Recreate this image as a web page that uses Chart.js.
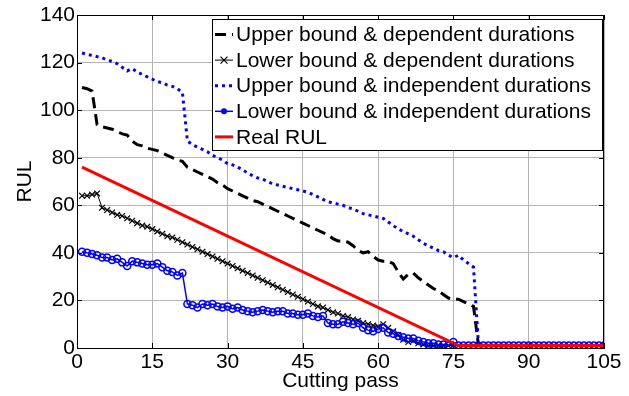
<!DOCTYPE html>
<html lang="en">
<head>
<meta charset="UTF-8" />
<title>RUL</title>
<style>
  body { margin: 0; background: #fff; }
  #box { width: 629px; height: 396px; }
</style>
</head>
<body>
<div id="box"><canvas id="myChart" width="629" height="396"></canvas></div>
<script src="https://cdn.jsdelivr.net/npm/chart.js"></script>
<script>
// RUL per cutting pass (pass 1..105)
var upper_dep = [
  109.5, 109, 108, 94, 93, 92.5, 92, 91, 90, 89.5,
  87, 85.5, 85, 84, 83.5, 83, 82, 81, 80, 79,
  78.5, 76, 75, 74, 73, 72, 71, 69.5, 68.5, 67,
  66, 65, 64, 63, 62, 61.5, 60.5, 59.5, 58.5, 57.5,
  56.5, 55.5, 54.5, 53.5, 52.5, 51.5, 50.5, 49.5, 48.5, 47.5,
  46, 45, 45, 44.5, 43, 41, 40, 40.5, 38.5, 37,
  36.5, 36.5, 35.5, 32, 29, 31, 31.5, 29.5, 28, 26.5,
  25, 24, 22.5, 21, 20.5, 20.5, 19.5, 18.5, 17.5, 1,
  1, 1, 1, 1, 1, 1, 1, 1, 1, 1,
  1, 1, 1, 1, 1, 1, 1, 1, 1, 1,
  1, 1, 1, 1, 1
];
var lower_dep = [
  64, 64, 64.5, 65, 59, 58, 57, 56, 55.5, 54.5,
  53.5, 52.5, 51.5, 51, 50, 49, 48, 47, 46.5, 45.5,
  44.5, 43.5, 42.5, 41.5, 40.5, 39.5, 38.5, 37.5, 36.5, 35.5,
  34.5, 33.5, 32.5, 31.5, 30.5, 29.5, 28.5, 27.5, 26.5, 25.5,
  24.5, 23.5, 22.5, 21.5, 20.5, 19.5, 18.5, 17.5, 17, 16,
  15, 14.5, 13.5, 13, 12, 11.5, 10.5, 10, 9.5, 9,
  10, 8.5, 7, 5.5, 3.5, 2.5, 3, 2, 1.5, 1,
  1, 1, 1, 1, 1, 1, 1, 1, 1, 1,
  1, 1, 1, 1, 1, 1, 1, 1, 1, 1,
  1, 1, 1, 1, 1, 1, 1, 1, 1, 1,
  1, 1, 1, 1, 1
];
var upper_indep = [
  124, 123.5, 123, 122.5, 122, 121, 120.5, 119.5, 118, 116.5,
  117.5, 116, 115, 114, 113, 112, 111.5, 110.5, 110, 109,
  107.5, 87, 85.5, 84.5, 83.5, 82.5, 81, 80, 79, 77.5,
  77, 76, 75, 73.5, 72.5, 71.5, 71, 70, 69, 68.5,
  68, 67.5, 67, 66.5, 66, 65.5, 64.5, 63.5, 62.5, 61.5,
  61, 60.5, 60, 59, 58.5, 57.5, 56.5, 56, 55.5, 55,
  54.5, 53, 51.5, 50, 49, 48, 47, 45.5, 44, 43,
  42, 41, 40.5, 39, 38, 39, 37, 35.5, 34, 1,
  1, 1, 1, 1, 1, 1, 1, 1, 1, 1,
  1, 1, 1, 1, 1, 1, 1, 1, 1, 1,
  1, 1, 1, 1, 1
];
var lower_indep = [
  40.5, 40, 39.5, 39, 38, 38, 37, 37.5, 36, 34.5,
  36.5, 36, 35.5, 35, 35, 35.5, 34, 32.5, 32, 30.5,
  31.5, 18.5, 18, 17, 18.5, 18, 18.5, 17.5, 17, 17.5,
  16.5, 17, 16, 15.5, 15, 15.5, 16, 15.5, 15, 15.5,
  15.5, 14.5, 14.5, 14, 14, 14.5, 13.5, 13, 13.5, 10.5,
  10, 10, 11, 10.5, 10, 10.5, 8.5, 7.5, 7, 8,
  8.5, 6.5, 6, 5, 4.5, 4, 4, 3, 2.5, 2,
  2, 1.5, 1.5, 1, 2.5, 1, 1, 1, 1, 1,
  1, 1, 1, 1, 1, 1, 1, 1, 1, 1,
  1, 1, 1, 1, 1, 1, 1, 1, 1, 1,
  1, 1, 1, 1, 1
];
// real RUL is a straight line, then flat
var real_x = [1, 76, 105];
var real_y = [76, 1, 1];

var x_ticks = [0, 15, 30, 45, 60, 75, 90, 105];
var y_ticks = [0, 20, 40, 60, 80, 100, 120, 140];
var legend_names = [
  "Upper bound & dependent durations",
  "Lower bound & dependent durations",
  "Upper bound & independent durations",
  "Lower bound & independent durations",
  "Real RUL"
];

var FONT = "Liberation Sans, Arial, sans-serif";

function toXY(arr) {
  var out = [];
  for (var c = 0; c < arr.length; c++) {
    out.push({ x: c + 1, y: arr[c] });
  }
  return out;
}

var realPts = [];
for (var c = 0; c < real_x.length; c++) {
  realPts.push({ x: real_x[c], y: real_y[c] });
}

const data = {
  datasets: [
    {
      label: legend_names[0],
      data: toXY(upper_dep),
      borderColor: "#000",
      borderWidth: 3,
      borderDash: [11, 6],
      pointRadius: 0,
      order: 5
    },
    {
      label: legend_names[1],
      data: toXY(lower_dep),
      borderColor: "#000",
      borderWidth: 1,
      pointStyle: "crossRot",
      pointRadius: 4,
      pointBorderColor: "#000",
      pointBorderWidth: 1.2,
      order: 4
    },
    {
      label: legend_names[2],
      data: toXY(upper_indep),
      borderColor: "#0000ff",
      borderWidth: 3,
      borderDash: [3, 4],
      pointRadius: 0,
      order: 3
    },
    {
      label: legend_names[3],
      data: toXY(lower_indep),
      borderColor: "#0000ff",
      borderWidth: 1.5,
      pointStyle: "circle",
      pointRadius: 3.5,
      pointBorderColor: "#0000ff",
      pointBackgroundColor: "rgba(255,255,255,0)",
      pointBorderWidth: 1.5,
      order: 2
    },
    {
      label: legend_names[4],
      data: realPts,
      borderColor: "#ff0000",
      borderWidth: 3,
      pointRadius: 0,
      order: 1
    }
  ]
};

// frame, inward ticks and the legend box inside the plot
const matlabLook = {
  id: "matlabLook",
  afterDraw: function (chart) {
    var ctx = chart.ctx;
    var a = chart.chartArea;
    var xs = chart.scales.x, ys = chart.scales.y;
    ctx.save();
    ctx.strokeStyle = "#000";
    ctx.lineWidth = 1;
    ctx.strokeRect(a.left + 0.5, a.top + 0.5, a.right - a.left - 1, a.bottom - a.top);
    ctx.beginPath();
    for (var i = 0; i < x_ticks.length; i++) {
      var px = Math.round(xs.getPixelForValue(x_ticks[i])) + 0.5;
      ctx.moveTo(px, a.bottom); ctx.lineTo(px, a.bottom - 5);
      ctx.moveTo(px, a.top); ctx.lineTo(px, a.top + 5);
    }
    for (var j = 0; j < y_ticks.length; j++) {
      var py = Math.round(ys.getPixelForValue(y_ticks[j])) + 0.5;
      ctx.moveTo(a.left, py); ctx.lineTo(a.left + 5, py);
      ctx.moveTo(a.right, py); ctx.lineTo(a.right - 5, py);
    }
    ctx.stroke();

    // legend
    var bx = 212, by = 19, bw = 390, bh = 131;
    ctx.fillStyle = "#fff";
    ctx.fillRect(bx, by, bw, bh);
    ctx.strokeStyle = "#000";
    ctx.lineWidth = 1;
    ctx.strokeRect(bx + 0.5, by + 0.5, bw, bh);
    ctx.font = "21px " + FONT;
    ctx.textBaseline = "middle";
    ctx.textAlign = "left";
    var ds = chart.data.datasets;
    for (var k = 0; k < ds.length; k++) {
      var ry = 34.5 + k * 25.6;
      var d = ds[k];
      ctx.save();
      ctx.strokeStyle = d.borderColor;
      ctx.lineWidth = d.borderWidth;
      ctx.setLineDash(d.borderDash || []);
      ctx.beginPath();
      ctx.moveTo(215, ry); ctx.lineTo(233, ry);
      ctx.stroke();
      ctx.setLineDash([]);
      if (d.pointStyle === "crossRot") {
        ctx.lineWidth = 1.2;
        ctx.beginPath();
        ctx.moveTo(220.5, ry - 3.5); ctx.lineTo(227.5, ry + 3.5);
        ctx.moveTo(227.5, ry - 3.5); ctx.lineTo(220.5, ry + 3.5);
        ctx.stroke();
      } else if (d.pointStyle === "circle") {
        ctx.fillStyle = d.borderColor;
        ctx.beginPath();
        ctx.arc(224, ry, 3, 0, Math.PI * 2);
        ctx.fill();
      }
      ctx.restore();
      ctx.fillStyle = "#000";
      ctx.fillText(d.label, 236, ry + 1);
    }
    ctx.restore();
  }
};

const config = {
  type: "line",
  data: data,
  options: {
    responsive: false,
    animation: false,
    devicePixelRatio: 1,
    layout: { padding: { top: 15, right: 25, left: 0, bottom: 0 } },
    plugins: {
      legend: { display: false },
      tooltip: { enabled: false }
    },
    scales: {
      x: {
        type: "linear",
        min: 0,
        max: 105,
        afterFit: function (s) { s.height = 48; },
        afterBuildTicks: function (s) {
          s.ticks = x_ticks.map(function (v) { return { value: v }; });
        },
        grid: { color: "#b4b4b4", drawTicks: false },
        border: { display: true, color: "#000" },
        ticks: {
          padding: 2,
          color: "#000",
          font: { family: FONT, size: 21 },
          maxRotation: 0
        },
        title: {
          display: true,
          text: "Cutting pass",
          color: "#000",
          font: { family: FONT, size: 21 },
          padding: { top: 0, bottom: 2 }
        }
      },
      y: {
        min: 0,
        max: 140,
        afterFit: function (s) { s.width = 77; },
        afterBuildTicks: function (s) {
          s.ticks = y_ticks.map(function (v) { return { value: v }; });
        },
        grid: { color: "#b4b4b4", drawTicks: false },
        border: { display: true, color: "#000" },
        ticks: {
          padding: 2,
          color: "#000",
          font: { family: FONT, size: 21 }
        },
        title: {
          display: true,
          text: "RUL",
          color: "#000",
          font: { family: FONT, size: 21 },
          padding: { top: 13, bottom: 0 }
        }
      }
    }
  },
  plugins: [matlabLook]
};

const myChart = new Chart(document.getElementById("myChart"), config);
</script>
</body>
</html>
